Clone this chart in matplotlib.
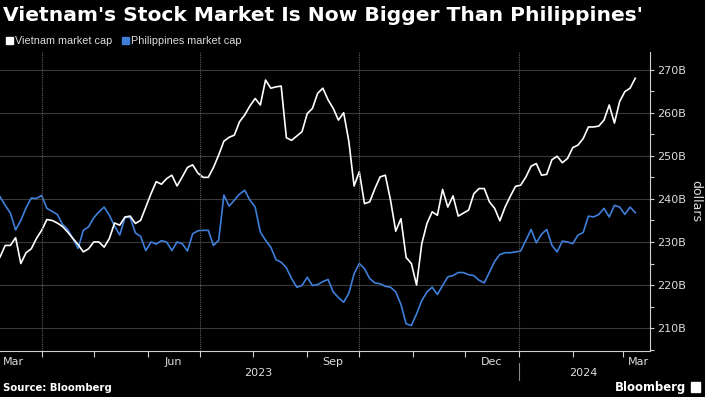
import numpy as np
import pandas as pd
import matplotlib.pyplot as plt
import matplotlib.dates as mdates
import matplotlib.transforms as mtransforms
from matplotlib.patches import Rectangle
from matplotlib.ticker import MultipleLocator

plt.rcParams['font.family'] = ['DejaVu Sans']

# market cap in billions of dollars, every 3 days from 8 Mar 2023
dates = pd.date_range('2023-03-08', periods=123, freq='3D')

vietnam = [226.5, 229.2, 229.2, 231.0, 225.0, 227.5, 228.4, 230.8, 232.7, 235.2,
           235.0, 234.4, 233.6, 232.3, 230.8, 229.4, 227.7, 228.4, 230.0, 230.0,
           228.8, 230.8, 234.4, 233.9, 235.8, 236.0, 234.3, 235.0, 238.1, 241.2,
           244.0, 243.4, 244.7, 245.5, 243.0, 245.1, 247.3, 247.9, 246.0, 245.0,
           245.0, 247.3, 250.2, 253.4, 254.3, 254.8, 257.9, 259.5, 261.6, 263.3,
           261.8, 267.6, 265.7, 266.0, 266.2, 254.2, 253.6, 254.6, 255.6, 259.8,
           261.0, 264.5, 265.7, 263.0, 261.0, 258.3, 260.0, 253.3, 243.0, 246.3,
           238.9, 239.3, 242.4, 245.1, 245.5, 239.7, 232.5, 235.4, 226.4, 225.0,
           220.0, 229.6, 234.3, 237.0, 236.2, 242.2, 238.1, 240.7, 236.0, 236.7,
           237.4, 241.2, 242.4, 242.4, 239.3, 237.8, 234.9, 238.1, 240.6, 242.9,
           243.2, 245.1, 247.6, 248.2, 245.5, 245.7, 249.1, 249.9, 248.4, 249.4,
           251.9, 252.5, 254.0, 256.7, 256.7, 256.9, 258.3, 261.8, 257.6, 262.6,
           264.9, 265.7, 268.0]

philippines = [240.5, 238.5, 236.7, 232.8, 235.0, 237.9, 240.2, 240.1, 240.8, 237.8,
               237.1, 236.4, 234.1, 232.9, 230.8, 228.5, 232.7, 233.5, 235.6, 237.0,
               238.1, 236.2, 233.7, 231.6, 235.7, 235.7, 232.1, 231.3, 228.0, 230.0,
               229.5, 230.3, 230.0, 228.0, 230.0, 229.6, 227.9, 231.9, 232.6, 232.7,
               232.7, 229.2, 230.4, 240.9, 238.3, 239.7, 241.1, 242.0, 239.7, 238.1,
               232.3, 230.4, 228.8, 225.9, 225.3, 224.0, 221.5, 219.5, 219.9, 221.8,
               219.9, 220.1, 220.8, 221.3, 218.4, 217.1, 216.0, 218.1, 222.6, 225.0,
               223.8, 221.5, 220.5, 220.3, 219.7, 219.5, 218.4, 215.5, 211.0, 210.6,
               213.3, 216.4, 218.4, 219.5, 217.8, 219.9, 221.9, 222.2, 222.9, 222.9,
               222.4, 222.2, 221.1, 220.5, 223.0, 225.5, 227.1, 227.5, 227.5, 227.7,
               227.9, 230.4, 232.9, 229.8, 231.8, 232.9, 229.2, 227.7, 230.2, 230.0,
               229.6, 231.6, 232.2, 236.0, 235.8, 236.4, 237.8, 235.8, 238.5, 238.1,
               236.4, 238.1, 236.8]

y_ticks = [210, 220, 230, 240, 250, 260, 270]
month_labels = ['Mar', 'Jun', 'Sep', 'Dec', 'Mar']
month_label_dates = pd.to_datetime(['2023-03-16', '2023-06-16', '2023-09-16',
                                    '2023-12-16', '2024-03-16'])
quarter_lines = pd.to_datetime(['2023-04-01', '2023-07-01', '2023-10-01', '2024-01-01'])
years = ['2023', '2024']
year_centers = pd.to_datetime(['2023-08-04', '2024-02-07'])
year_break = pd.Timestamp('2024-01-01')

BLUE = '#3f7fd9'
GREY = '#cfcfcf'
TXT = '#dddddd'

fig = plt.figure(figsize=(7.05, 3.97), dpi=100, facecolor='black')
ax = fig.add_axes([0, 0.116, 0.922, 0.753])
ax.set_facecolor('black')

ax.plot(dates, philippines, color=BLUE, lw=1.2)
ax.plot(dates, vietnam, color='white', lw=1.2)

ax.set_xlim(pd.Timestamp('2023-03-08'), pd.Timestamp('2024-03-16 12:00'))
ax.set_ylim(204.7, 274.1)

# y axis on the right
ax.yaxis.tick_right()
ax.yaxis.set_label_position('right')
ax.set_yticks(y_ticks)
ax.set_yticklabels([f'{v}B' for v in y_ticks])
ax.yaxis.set_minor_locator(MultipleLocator(5))
ax.tick_params(axis='y', which='both', colors=GREY, labelcolor=TXT, length=3,
               width=0.8, labelsize=8, pad=2)
ax.set_ylabel('dollars', rotation=270, color=TXT, fontsize=9, labelpad=12)
ax.grid(axis='y', which='major', color='#3a3a3a', lw=0.8)

for d in quarter_lines:
    ax.axvline(d, color='#5e5e5e', lw=0.8, ls=(0, (1, 1)))

# x axis: month ticks, labels in mid month
ax.xaxis.set_minor_locator(mdates.MonthLocator())
ax.set_xticks(month_label_dates)
ax.set_xticklabels(month_labels)
ax.tick_params(axis='x', which='major', length=0, labelcolor=TXT, labelsize=8, pad=4)
ax.tick_params(axis='x', which='minor', length=4, width=0.8, color=GREY)
ax.get_xticklabels()[-1].set_ha('right')

for s in ['left', 'top']:
    ax.spines[s].set_visible(False)
for s in ['right', 'bottom']:
    ax.spines[s].set_color(GREY)
    ax.spines[s].set_linewidth(0.8)

trans = mtransforms.blended_transform_factory(ax.transData, ax.transAxes)
for name, c in zip(years, year_centers):
    ax.text(c, -0.074, name, transform=trans, ha='center', va='center',
            color=TXT, fontsize=8)
ax.plot([year_break, year_break], [-0.04, -0.097], transform=trans,
        color='#888888', lw=0.8, clip_on=False)

# title, legend, footer
fig.text(0.004, 0.985, "Vietnam's Stock Market Is Now Bigger Than Philippines'",
         color='white', fontsize=14.6, fontweight='bold', ha='left', va='top')
fig.patches.append(Rectangle((6 / 705, 1 - 44 / 397), 7 / 705, 7 / 397,
                             transform=fig.transFigure, color='white'))
fig.text(15 / 705, 1 - 41 / 397, 'Vietnam market cap', color=TXT, fontsize=7.8,
         ha='left', va='center', family='Liberation Sans')
fig.patches.append(Rectangle((122 / 705, 1 - 44 / 397), 7 / 705, 7 / 397,
                             transform=fig.transFigure, color=BLUE))
fig.text(131 / 705, 1 - 41 / 397, 'Philippines market cap', color=TXT,
         fontsize=7.8, ha='left', va='center', family='Liberation Sans')

fig.text(3 / 705, 1 - 388 / 397, 'Source: Bloomberg', color='white', fontsize=7.3,
         fontweight='bold', ha='left', va='center')
fig.text(686 / 705, 1 - 387 / 397, 'Bloomberg', color='white', fontsize=8.4,
         fontweight='bold', ha='right', va='center')
fig.patches.append(Rectangle((691 / 705, 1 - 392 / 397), 9 / 705, 10 / 397,
                             transform=fig.transFigure, color='white'))

fig.savefig('out.png', dpi=100, facecolor='black')
